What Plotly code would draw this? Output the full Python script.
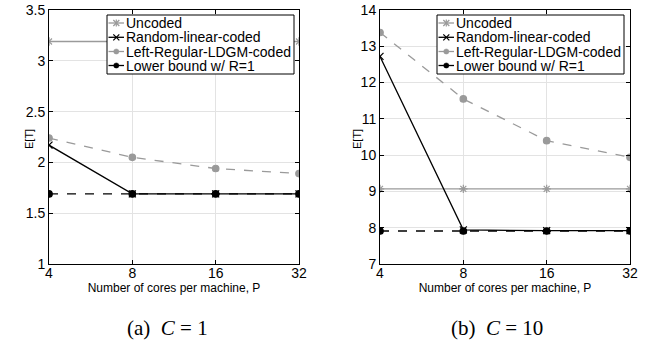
import plotly.graph_objects as go

P = [4, 8, 16, 32]

# Panel (a) C = 1
a_uncoded = [3.19, 3.19, 3.19, 3.19]
a_random = [2.17, 1.69, 1.69, 1.69]
a_ldgm = [2.24, 2.05, 1.94, 1.89]
a_lower = [1.69, 1.69, 1.69, 1.69]

# Panel (b) C = 10
b_uncoded = [9.07, 9.07, 9.07, 9.07]
b_random = [12.72, 7.94, 7.92, 7.92]
b_ldgm = [13.38, 11.55, 10.40, 9.94]
b_lower = [7.91, 7.91, 7.91, 7.91]

names = ["Uncoded", "Random-linear-coded", "Left-Regular-LDGM-coded", "Lower bound w/ R=1"]
a_ticks = [1, 1.5, 2, 2.5, 3, 3.5]
a_ticktext = ["1", "1.5", "2", "2.5", "3", "3.5"]
b_ticks = [7, 8, 9, 10, 11, 12, 13, 14]
captions = ["(a)\u00a0\u00a0<i>C</i>\u00a0=\u00a01", "(b)\u00a0\u00a0<i>C</i>\u00a0=\u00a010"]

W, H = 648, 343
GRAY = "#9a9a9a"
SANS = "Liberation Sans, Arial, Helvetica"
SERIF = "Liberation Serif, Times New Roman, DejaVu Serif"

colors = [GRAY, "black", GRAY, "black"]
dashes = ["solid", "solid", "dash", "dash"]
symbols = ["asterisk-open", "x-thin-open", "circle", "circle"]
msizes = [7, 7, 6.5, 6.5]


def px(x):
    return x / W


def py(y):
    return 1 - y / H


fig = go.Figure()
for panel, series in enumerate([[a_uncoded, a_random, a_ldgm, a_lower], [b_uncoded, b_random, b_ldgm, b_lower]]):
    xa = "x" if panel == 0 else "x2"
    ya = "y" if panel == 0 else "y2"
    for i, ys in enumerate(series):
        fig.add_trace(go.Scatter(
            x=P, y=ys, name=names[i], mode="lines+markers", xaxis=xa, yaxis=ya, showlegend=False,
            line=dict(color=colors[i], width=1.3, dash=dashes[i]),
            marker=dict(symbol=symbols[i], size=msizes[i], color=colors[i],
                        line=dict(color=colors[i], width=1.2)),
        ))

xd1 = [px(49), px(299)]
xd2 = [px(380), px(630)]
yd = [py(264), py(10)]

ax_common = dict(showline=True, linecolor="black", linewidth=1, mirror="ticks", ticks="inside",
                 ticklen=4, tickcolor="black", showgrid=True, gridcolor="#e3e3e3", gridwidth=1,
                 zeroline=False, tickfont=dict(family=SANS, size=14, color="black"),
                 automargin=False)

xcommon = dict(ax_common, type="log", range=[0.60206, 1.50515], tickvals=P, ticktext=[str(p) for p in P],
               ticklabeloverflow="allow", ticklabelstandoff=-4,
               title=dict(text="Number of cores per machine, P", font=dict(family=SANS, size=12, color="black"),
                          standoff=0))
fig.update_layout(
    xaxis=dict(xcommon, domain=xd1, anchor="y"),
    xaxis2=dict(xcommon, domain=xd2, anchor="y2"),
    yaxis=dict(ax_common, domain=yd, anchor="x", range=[1, 3.5], tickvals=a_ticks, ticktext=a_ticktext,
               ticklabelstandoff=0),
    yaxis2=dict(ax_common, domain=yd, anchor="x2", range=[7, 14], tickvals=b_ticks, ticklabelstandoff=0),
)

# y-axis titles
for xc in [29, 357]:
    fig.add_annotation(text="E[T]", xref="paper", yref="paper", x=px(xc), y=py(139), textangle=-90,
                       xanchor="center", yanchor="middle",
                       showarrow=False, font=dict(family=SANS, size=11, color="black"))

# captions
for xc, cap in zip([167, 497], captions):
    fig.add_annotation(text=cap, xref="paper", yref="paper", x=px(xc), y=py(328),
                       xanchor="center", yanchor="middle",
                       showarrow=False, font=dict(family=SERIF, size=21, color="black"))

# legends (drawn as boxes with key samples and text)
row_y = [23, 37.3, 51.5, 65.5]
legend_text = "<br>".join('<span style="font-size:14px">%s</span>' % n for n in names)
for lx in [107, 437]:
    fig.add_shape(type="rect", xref="paper", yref="paper", x0=px(lx), x1=px(lx + 187), y0=py(15), y1=py(74),
                  fillcolor="white", line=dict(color="black", width=1), layer="above")
    for i, ry in enumerate(row_y):
        c = colors[i]
        fig.add_shape(type="line", xref="paper", yref="paper", x0=px(lx + 1.5), x1=px(lx + 17),
                      y0=py(ry), y1=py(ry), line=dict(color=c, width=1.3), layer="above")
        mx = lx + 9.3
        if symbols[i] == "circle":
            r = 2.6
            fig.add_shape(type="circle", xref="paper", yref="paper", x0=px(mx - r), x1=px(mx + r),
                          y0=py(ry + r), y1=py(ry - r), fillcolor=c, line=dict(color=c, width=0.5),
                          layer="above")
        else:
            d = 3
            fig.add_shape(type="line", xref="paper", yref="paper", x0=px(mx - d), x1=px(mx + d),
                          y0=py(ry - d), y1=py(ry + d), line=dict(color=c, width=1.2), layer="above")
            fig.add_shape(type="line", xref="paper", yref="paper", x0=px(mx - d), x1=px(mx + d),
                          y0=py(ry + d), y1=py(ry - d), line=dict(color=c, width=1.2), layer="above")
            if symbols[i] == "asterisk-open":
                fig.add_shape(type="line", xref="paper", yref="paper", x0=px(mx), x1=px(mx),
                              y0=py(ry - 3.5), y1=py(ry + 3.5), line=dict(color=c, width=1.2), layer="above")
    fig.add_annotation(text=legend_text, xref="paper", yref="paper", x=px(lx + 17.5),
                       y=py((row_y[0] + row_y[-1]) / 2), xanchor="left", yanchor="middle", align="left",
                       showarrow=False, borderpad=0, font=dict(family=SANS, size=11, color="black"))

fig.update_layout(width=W, height=H, margin=dict(l=0, r=0, t=0, b=0),
                  paper_bgcolor="white", plot_bgcolor="white", showlegend=False)

fig.write_html("out.html", config={"displayModeBar": False},
               post_script="document.body.style.margin='0';")
